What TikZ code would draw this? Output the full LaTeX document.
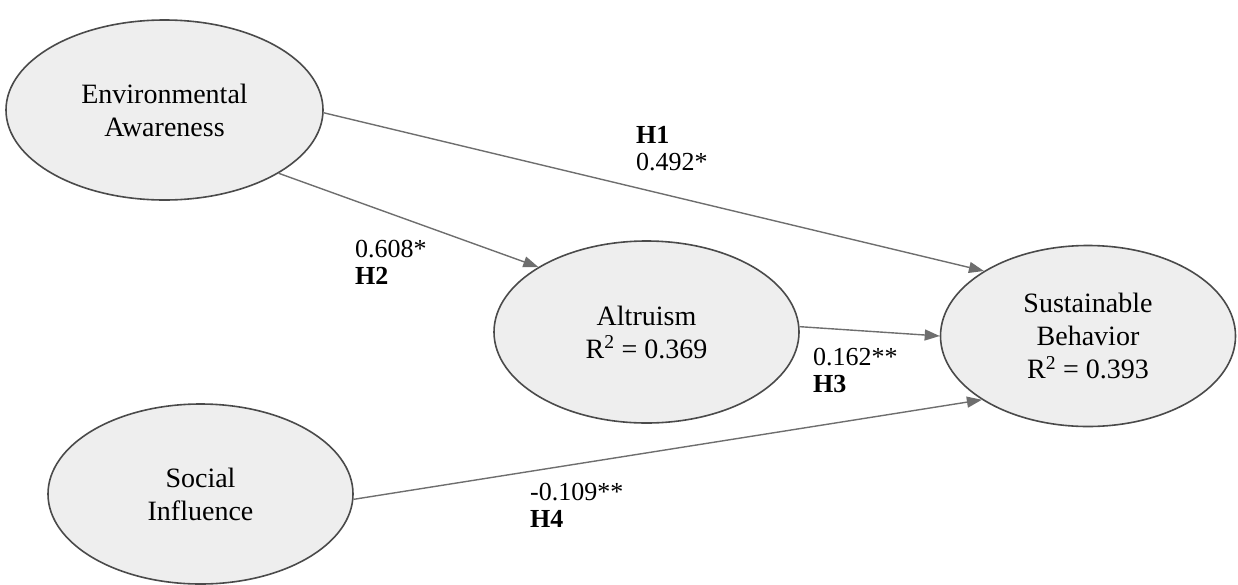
\documentclass[tikz,border=0pt]{standalone}
\usepackage{fontspec}
\setmainfont{Liberation Serif}
\usetikzlibrary{shapes.geometric,arrows.meta}
\definecolor{nodefill}{HTML}{EEEEEE}
\definecolor{nodeborder}{HTML}{4A4A4A}
\definecolor{linkcol}{HTML}{6E6E6E}
\begin{document}
\begin{tikzpicture}[x=1pt,y=-1pt,
  latent/.style={ellipse, draw=nodeborder, line width=1.6pt, fill=nodefill, inner sep=0pt, align=center, font=\fontsize{28}{33}\selectfont},
  link/.style={draw=linkcol, line width=1.4pt, -{Triangle[length=15pt,width=11pt]}},
  coef/.style={anchor=west, align=left, inner sep=0pt, font=\fontsize{26}{27}\selectfont}]
\useasboundingbox (0,0) rectangle (1238,584);
\node[latent, minimum width=317pt, minimum height=180pt] (EA) at (164.5,110) {Environmental\\Awareness};
\node[latent, minimum width=305pt, minimum height=182pt] (AL) at (646.5,332) {Altruism\\R\textsuperscript{2} = 0.369};
\node[latent, minimum width=295pt, minimum height=181pt] (SB) at (1088,336) {Sustainable\\Behavior\\R\textsuperscript{2} = 0.393};
\node[latent, minimum width=305pt, minimum height=180pt] (SI) at (200.5,494) {Social\\Influence};
\draw[link] (EA.-1.5) -- (SB.148.6);
\draw[link] (EA.-29) -- (AL.149.1);
\draw[link] (AL.2) -- (SB.180);
\draw[link] (SI.-2.3) -- (SB.211);
\node[coef] (L1) at (636,149) {\textbf{H1}\\0.492*};
\node[coef] (L2) at (355,262) {0.608*\\\textbf{H2}};
\node[coef] (L3) at (813,370) {0.162**\\\textbf{H3}};
\node[coef] (L4) at (530,505) {-0.109**\\\textbf{H4}};
\end{tikzpicture}
\end{document}
